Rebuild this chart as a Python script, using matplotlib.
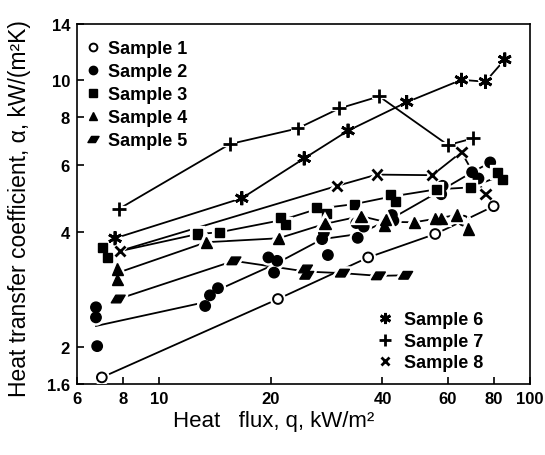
import numpy as np
import matplotlib
matplotlib.use("Agg")
import matplotlib.pyplot as plt
import matplotlib.patheffects as pe
from matplotlib.lines import Line2D
from matplotlib.path import Path
from matplotlib.ticker import FixedLocator, NullLocator

nan = np.nan

# heat flux q (kW/m2) and heat transfer coefficient alpha (kW/(m2 K))
s1_q = [7.0, 20.9, 36.6, 55.5, 66.2, 79.8]
s1_a = [1.665, 2.67, 3.43, 3.95, 4.28, 4.67]
s1_line_q = s1_q
s1_line_a = s1_a

s2_q = [6.75, 6.75, 6.8, 13.3, 13.7, 14.4, 19.7, 20.8, 20.4, 27.5, 27.8, 28.5,
        34.3, 34.0, 35.6, 42.4, 42.8, 57.6, 58.1, 69.8, 72.6, 78.1]
s2_a = [2.54, 2.39, 2.01, 2.56, 2.73, 2.85, 3.43, 3.36, 3.13, 3.83, 3.99, 3.48,
        3.86, 4.22, 4.13, 4.43, 4.28, 5.02, 5.28, 5.73, 5.52, 6.08]
s2_line_q = [6.75, 12.6, nan, 14.4, 20.6, 27.5, 34.5, 42.6, 57.8, 69.8, 78.1]
s2_line_a = [2.27, 2.59, nan, 2.82, 3.3, 3.83, 3.95, 4.35, 5.15, 5.73, 6.08]

s3_q = [7.05, 7.25, 12.7, 14.5, 21.2, 21.9, 26.6, 28.3, 33.6, 42.0, 43.3, 56.0, 69.1, 81.6, 84.2]
s3_a = [3.65, 3.43, 3.95, 3.99, 4.37, 4.19, 4.64, 4.47, 4.73, 5.0, 4.8, 5.17, 5.23, 5.72, 5.5]
s3_line_q = [7.9, 12.7, 14.5, 21.5, 26.8, 33.6, 42.3, 56.0, 69.1, 83.0]
s3_line_a = [3.57, 3.95, 3.99, 4.3, 4.6, 4.73, 4.95, 5.17, 5.23, 5.6]

s4_q = [7.7, 7.7, 13.4, 21.0, 28.0, 35.0, 40.8, 40.4, 48.8, 55.5, 57.6, 63.5, 68.2]
s4_a = [3.2, 3.0, 3.76, 3.85, 4.2, 4.4, 4.3, 4.15, 4.24, 4.33, 4.33, 4.43, 4.07]
s4_line_q = [7.9, 13.4, 21.0, 28.0, 35.0, 40.6, 48.8, 55.5, 63.5]
s4_line_a = [3.15, 3.76, 3.85, 4.2, 4.4, 4.25, 4.24, 4.33, 4.43]

s5_q = [7.75, 15.9, 24.8, 25.0, 31.2, 39.0, 46.2]
s5_a = [2.67, 3.36, 3.2, 3.08, 3.12, 3.07, 3.08]
s5_line_q = [7.75, 15.9, 24.9, 31.2, 39.0, 46.2]
s5_line_a = [2.67, 3.36, 3.15, 3.12, 3.07, 3.08]

s6_q = [7.6, 16.7, 24.6, 32.3, 46.5, 65.3, 75.8, 85.5]
s6_a = [3.85, 4.90, 6.23, 7.36, 8.74, 10.0, 9.89, 11.3]

s7_q = [7.8, 15.5, 23.6, 30.6, 39.2, 60.1, 70.2]
s7_a = [4.6, 6.79, 7.46, 8.42, 9.05, 6.75, 7.03]

s8_q = [7.85, 30.2, 38.6, 54.5, 65.3, 75.8]
s8_a = [3.57, 5.28, 5.65, 5.63, 6.47, 5.02]

x_ticks = [6, 8, 10, 20, 40, 60, 80, 100]
y_ticks = [1.6, 2, 4, 6, 8, 10, 14]

plt.rcParams['font.family'] = ['Liberation Sans', 'DejaVu Sans']

# skewed box used for sample 5
para = Path([(-1.0, -0.55), (0.35, -0.55), (1.0, 0.55), (-0.35, 0.55), (-1.0, -0.55)],
            [Path.MOVETO, Path.LINETO, Path.LINETO, Path.LINETO, Path.CLOSEPOLY])

styles = [
    dict(marker='o', mfc='white', ms=7, mew=1.4),
    dict(marker='o', mfc='black', ms=7.5, mew=1),
    dict(marker='s', mfc='black', ms=6.5, mew=1),
    dict(marker='^', mfc='black', ms=8, mew=1),
    dict(marker=para, mfc='black', ms=10, mew=1),
    dict(marker=(6, 2, 0), mfc='black', ms=10, mew=2),
    dict(marker='+', mfc='black', ms=10, mew=2),
    dict(marker='x', mfc='black', ms=7.5, mew=2),
]

points = [(s1_q, s1_a), (s2_q, s2_a), (s3_q, s3_a), (s4_q, s4_a),
          (s5_q, s5_a), (s6_q, s6_a), (s7_q, s7_a), (s8_q, s8_a)]
lines = [(s1_line_q, s1_line_a), (s2_line_q, s2_line_a), (s3_line_q, s3_line_a),
         (s4_line_q, s4_line_a), (s5_line_q, s5_line_a),
         (s6_q, s6_a), (s7_q, s7_a), (s8_q, s8_a)]

fig = plt.figure(figsize=(5.45, 4.56), dpi=100)
ax = fig.add_axes([0.1413, 0.1557, 0.8312, 0.7895])
ax.set_xscale('log')
ax.set_yscale('log')

for lq, la in lines:
    ax.plot(lq, la, color='black', lw=1.3, zorder=2)

halo = [pe.Stroke(linewidth=4.5, foreground='white'), pe.Normal()]
for (q, a), st in zip(points, styles):
    ax.plot(q, a, linestyle='none', color='black', mec='black', zorder=3,
            path_effects=halo, **st)

ax.set_xlim(6, 100)
ax.set_ylim(1.6, 14)
ax.xaxis.set_major_locator(FixedLocator(x_ticks))
ax.xaxis.set_minor_locator(NullLocator())
ax.yaxis.set_major_locator(FixedLocator(y_ticks))
ax.yaxis.set_minor_locator(NullLocator())
ax.set_xticklabels([str(t) for t in x_ticks], fontweight='bold')
ax.set_yticklabels([str(t) for t in y_ticks], fontweight='bold')
ax.tick_params(direction='in', length=5, width=1.2, labelsize=12, pad=5)
for sp in ax.spines.values():
    sp.set_linewidth(1.2)

ax.set_xlabel('Heat   flux, q, kW/m²', fontsize=16)
ax.xaxis.set_label_coords(0.435, -0.1)
ax.xaxis.label.set_va('center')
ax.set_ylabel('Heat transfer coefficient, α, kW/(m²K)', fontsize=16.5)
ax.yaxis.set_label_coords(-0.128, 0.49)
ax.yaxis.label.set_va('center')

def handles(idx):
    hs = []
    for i in idx:
        st = dict(styles[i])
        st['ms'] = st['ms'] * 0.8
        hs.append(Line2D([], [], linestyle='none', color='black', mec='black', **st))
    return hs

leg1 = ax.legend(handles(range(5)), ['Sample 1', 'Sample 2', 'Sample 3', 'Sample 4', 'Sample 5'],
                 loc='upper left', bbox_to_anchor=(0.02, 0.955), frameon=False,
                 prop={'size': 13, 'weight': 'bold'}, handlelength=0.8, handletextpad=0.4,
                 labelspacing=0.33, borderpad=0, borderaxespad=0)
ax.add_artist(leg1)
ax.legend(handles(range(5, 8)), ['Sample 6', 'Sample 7', 'Sample 8'],
          loc='lower left', bbox_to_anchor=(0.665, 0.035), frameon=False,
          prop={'size': 13, 'weight': 'bold'}, handlelength=0.8, handletextpad=0.6,
          labelspacing=0.25, borderpad=0, borderaxespad=0)

fig.savefig('out.png', dpi=100)
